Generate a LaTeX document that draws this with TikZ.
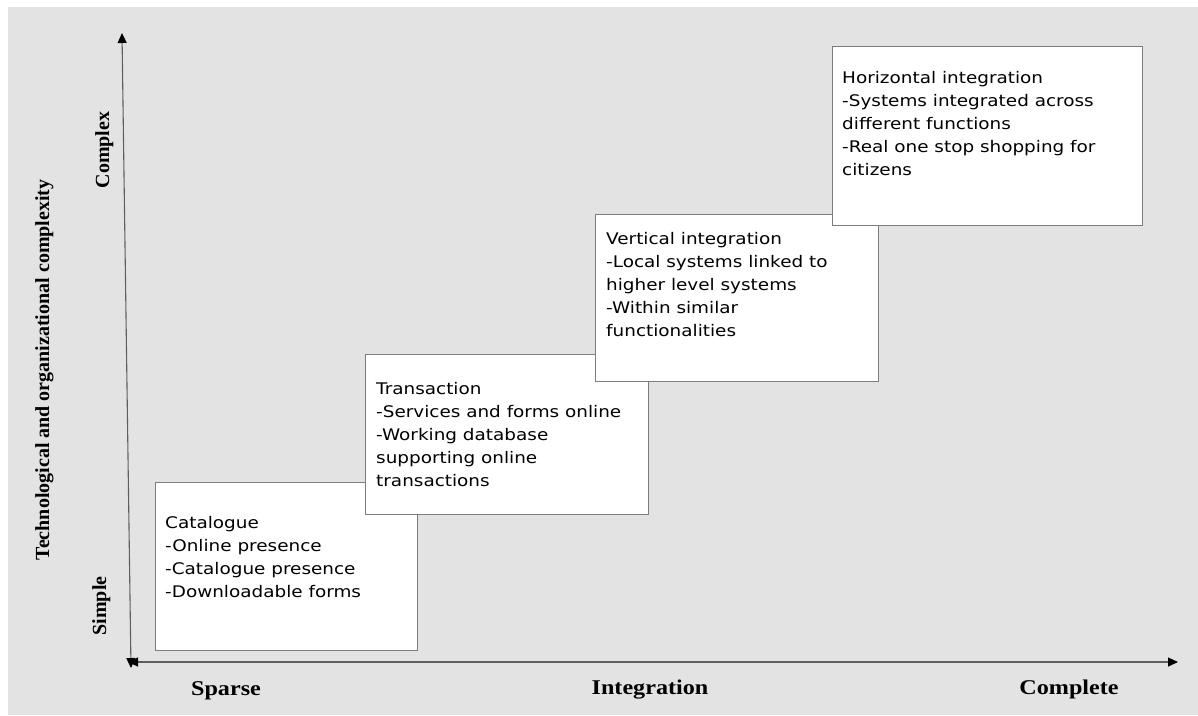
\documentclass[tikz,border=0pt]{standalone}
\usepackage{fontspec}
\usetikzlibrary{arrows.meta}
\usetikzlibrary{positioning}
\usetikzlibrary{calc}
\newfontfamily\stagefont[FakeStretch=1.15]{DejaVu Sans}
\newfontfamily\axisfont[FakeStretch=1.15]{Liberation Serif}
\newfontfamily\sidefont{Liberation Serif}
\definecolor{panel}{RGB}{226,227,226}
\definecolor{frame}{RGB}{125,125,125}
\definecolor{axisline}{RGB}{95,95,95}
\tikzset {
  % one box per stage of the model
  stage/.style = {
    draw = frame,
    fill = white,
    line width = 1.2pt,
    rectangle,
    anchor = north west,
    inner sep = 0
  },
  % text is hung from the baseline of its last line
  stage text/.style = {
    anchor = base west,
    align = left,
    inner sep = 0,
    font = \stagefont\fontsize{16}{23}\selectfont
  },
  axis/.style = {
    draw = axisline,
    line width = 1.1pt,
    >={Triangle[length=10pt,width=9pt,color=black]},
    <->
  },
  % labels under the x axis
  axis label/.style = {
    anchor = base,
    inner sep = 0,
    font = \axisfont\bfseries\fontsize{21}{24}\selectfont
  },
  % labels along the y axis
  side label/.style = {
    axis label,
    rotate = 90,
    font = \sidefont\bfseries\fontsize{20}{24}\selectfont
  }
}
\begin{document}
\begin{tikzpicture}[x=1pt, y=-1pt]
    \useasboundingbox (0,0) rectangle (1198,715);
    \fill[panel] (8,7) rectangle (1198,715);

    \coordinate (y-low) at (131,668);
    \coordinate (y-high) at (122,33);
    \coordinate (x-low) at (128,662);
    \coordinate (x-high) at (1178,662);
    \draw[axis] (y-low) -- (y-high);
    \draw[axis] (x-low) -- (x-high);

    \node[side label] (simple) at (106,606) {Simple};
    \node[side label] (complex) at (109,150) {Complex};
    \node[side label] (complexity) at (49,370) {Technological and organizational complexity};
    \node[axis label] (sparse) at (226,695) {Sparse};
    \node[axis label] (integration) at (650,694) {Integration};
    \node[axis label] (complete) at (1069,694) {Complete};

    \node[stage, minimum width=262pt, minimum height=168pt] (catalogue) at (155,482) {};
    \node[stage text] (catalogue-text) at ($(catalogue.north west)+(10,115)$)
      {Catalogue\\-Online presence\\-Catalogue presence\\-Downloadable forms};
    \node[stage, minimum width=283pt, minimum height=160pt] (transaction) at (365,354) {};
    \node[stage text] (transaction-text) at ($(transaction.north west)+(11,132)$)
      {Transaction\\-Services and forms online\\-Working database\\supporting online\\transactions};
    \node[stage, minimum width=283pt, minimum height=167pt] (vertical) at (595,214) {};
    \node[stage text] (vertical-text) at ($(vertical.north west)+(11,122)$)
      {Vertical integration\\-Local systems linked to\\higher level systems\\-Within similar\\functionalities};
    \node[stage, minimum width=310pt, minimum height=179pt] (horizontal) at (832,46) {};
    \node[stage text] (horizontal-text) at ($(horizontal.north west)+(10,129)$)
      {Horizontal integration\\-Systems integrated across\\different functions\\-Real one stop shopping for\\citizens};
  \end{tikzpicture}
\end{document}
